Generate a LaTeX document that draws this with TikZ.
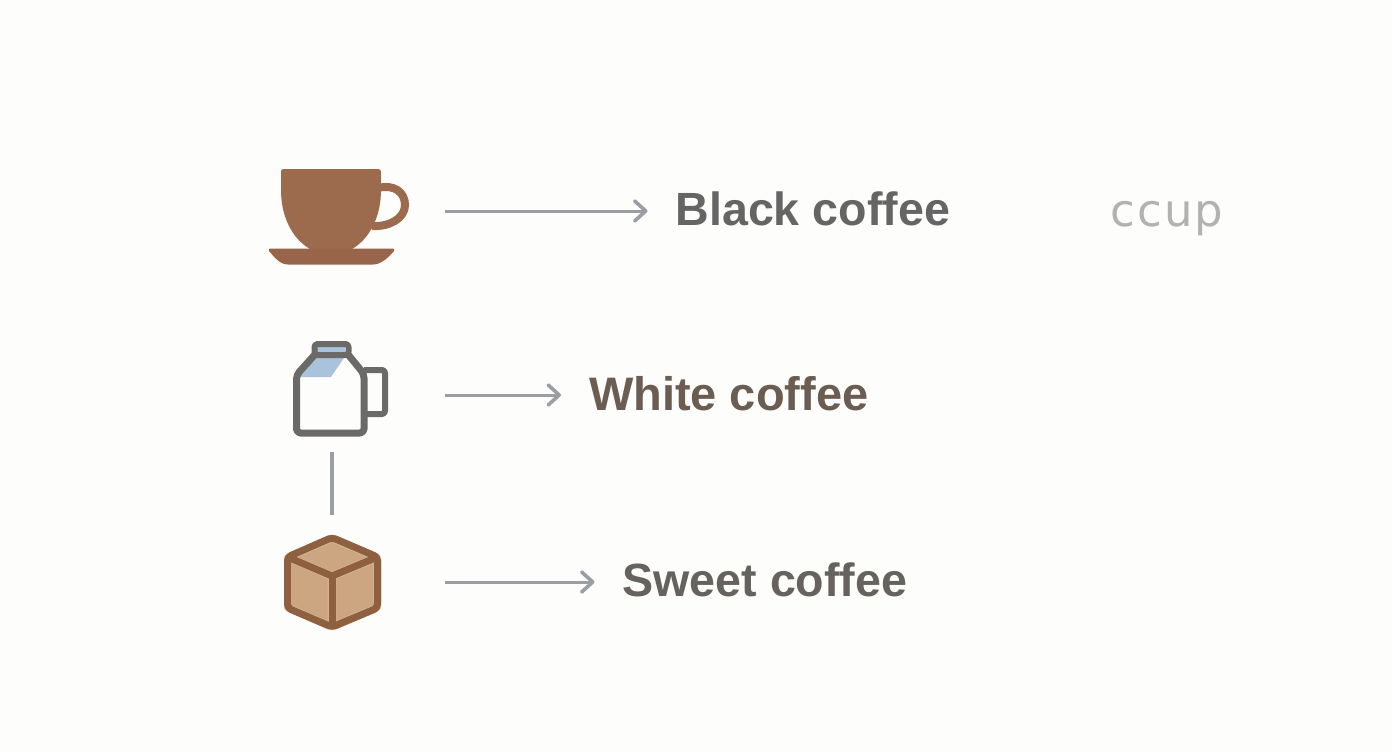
\documentclass[tikz,border=0pt]{standalone}
\usepackage{fontspec}
\setmainfont{Liberation Sans}
\newfontfamily\ghostfont[LetterSpace=5]{DejaVu Sans}
\usetikzlibrary{arrows.meta}
\definecolor{bgc}{HTML}{FDFDFC}
\definecolor{cupc}{HTML}{9C6B4E}
\definecolor{sauc}{HTML}{99654A}
\definecolor{jugc}{HTML}{6C6A69}
\definecolor{milkc}{HTML}{A9C3DC}
\definecolor{cubec}{HTML}{8F6040}
\definecolor{cubef}{HTML}{CBA681}
\definecolor{cubel}{HTML}{D4B290}
\definecolor{linec}{HTML}{9A9FA6}
\definecolor{tblack}{HTML}{656565}
\definecolor{twhite}{HTML}{6C5D53}
\definecolor{tsweet}{HTML}{656260}
\definecolor{tghost}{HTML}{B2B2B0}
\tikzset{
  iconbox/.style={minimum width=226pt,inner sep=0pt,outer sep=0pt},
  lab/.style={anchor=base west,inner sep=0pt,outer sep=0pt,font=\fontsize{46.6pt}{50pt}\selectfont\bfseries},
  flow/.style={draw=linec,line width=3pt,-{Straight Barb[length=11pt,width=20pt,line width=3.6pt,round]}},
  link/.style={draw=linec,line width=3.5pt},
  jugline/.style={draw=jugc,line width=7pt,line join=round},
  cubeline/.style={draw=cubec,line width=7pt,line join=round}
}
\begin{document}
\begin{tikzpicture}[x=1pt,y=-1pt]
\useasboundingbox (0,0) rectangle (1392,752);
\fill[bgc] (0,0) rectangle (1392,752);
% invisible holders of the icons
\node[iconbox,minimum height=100pt] (cup) at (332,211) {};
\node[iconbox,minimum height=114pt] (jug) at (332,395) {};
\node[iconbox,minimum height=134pt] (cube) at (332,582) {};
% cup
\draw[cupc,line width=8pt] (378,188) .. controls (394,184) and (405,192) .. (405,205)
   .. controls (405,218) and (390,227) .. (372,226);
\fill[cupc] (283,169) -- (378,169) .. controls (380,169) and (381,170) .. (381,172) -- (381,190)
   .. controls (381,215) and (371,238) .. (352,249) -- (310,249)
   .. controls (291,238) and (281,215) .. (281,190) -- (281,172) .. controls (281,170) and (282,169) .. (283,169) -- cycle;
\fill[sauc] (270,248.5) -- (393,248.5) .. controls (394.5,248.5) and (394.5,250) .. (394,251)
   .. controls (388,258) and (381,264.5) .. (373,264.5)
   -- (288,264.5) .. controls (280,264.5) and (275,258) .. (269,251)
   .. controls (268.5,250) and (268.5,248.5) .. (270,248.5) -- cycle;
% jug
\fill[milkc] (299,377) -- (315,358) -- (344,358) -- (331,377) -- cycle;
\fill[milkc] (317,347) rectangle (345,353);
\draw[jugline,line width=6pt,rounded corners=3pt] (364,370) -- (385,370) -- (385,414) -- (364,414);
\draw[jugline,line width=6pt,rounded corners=3pt] (314.5,355) -- (314.5,344) -- (348.5,344) -- (348.5,355) -- cycle;
\draw[jugline,rounded corners=4pt] (314.5,355) -- (296.5,375) -- (296.5,433) -- (364,433) -- (364,374) -- (348.5,355);
% sugar cube
\begin{scope}
\clip[rounded corners=4pt] (332,534) -- (381,555) -- (381,610) -- (332,631) -- (284,610) -- (284,555) -- cycle;
\fill[cubef] (280,530) rectangle (385,635);
\draw[cubel,line width=8.6pt,line join=round] (332,538) -- (377.5,557) -- (377.5,608) -- (332,627) -- (287.5,608) -- (287.5,557) -- cycle;
\draw[cubel,line width=8.6pt,line join=round] (287.5,557) -- (332,576) -- (377.5,557) (332,576) -- (332,627);
\end{scope}
\draw[cubeline,rounded corners=4pt] (332,537.5) -- (377.5,557) -- (377.5,608) -- (332,627) -- (287.5,608) -- (287.5,557) -- cycle;
\draw[cubeline] (287.5,557) -- (332,576) -- (377.5,557);
\draw[cubeline] (332,576) -- (332,627);
% labels
\node[lab,text=tblack] (t1) at (675.5,225) {Black coffee};
\node[lab,text=twhite,font=\fontsize{47pt}{50pt}\selectfont\bfseries] (t2) at (589,410) {White coffee};
\node[lab,text=tsweet] (t3) at (622.5,596) {Sweet coffee};
\node[anchor=base west,inner sep=0pt,text=tghost,font=\fontsize{45pt}{50pt}\ghostfont] (t4) at (1110,226) {ccup};
% connectors
\draw[flow,shorten >=28pt] (cup.east) -- (cup.east -| t1.west);
\draw[flow,shorten >=28pt] (jug.east) -- (jug.east -| t2.west);
\draw[flow,shorten >=28pt] (cube.east) -- (cube.east -| t3.west);
\draw[link] (jug.south) -- (cube.north);
\end{tikzpicture}
\end{document}
